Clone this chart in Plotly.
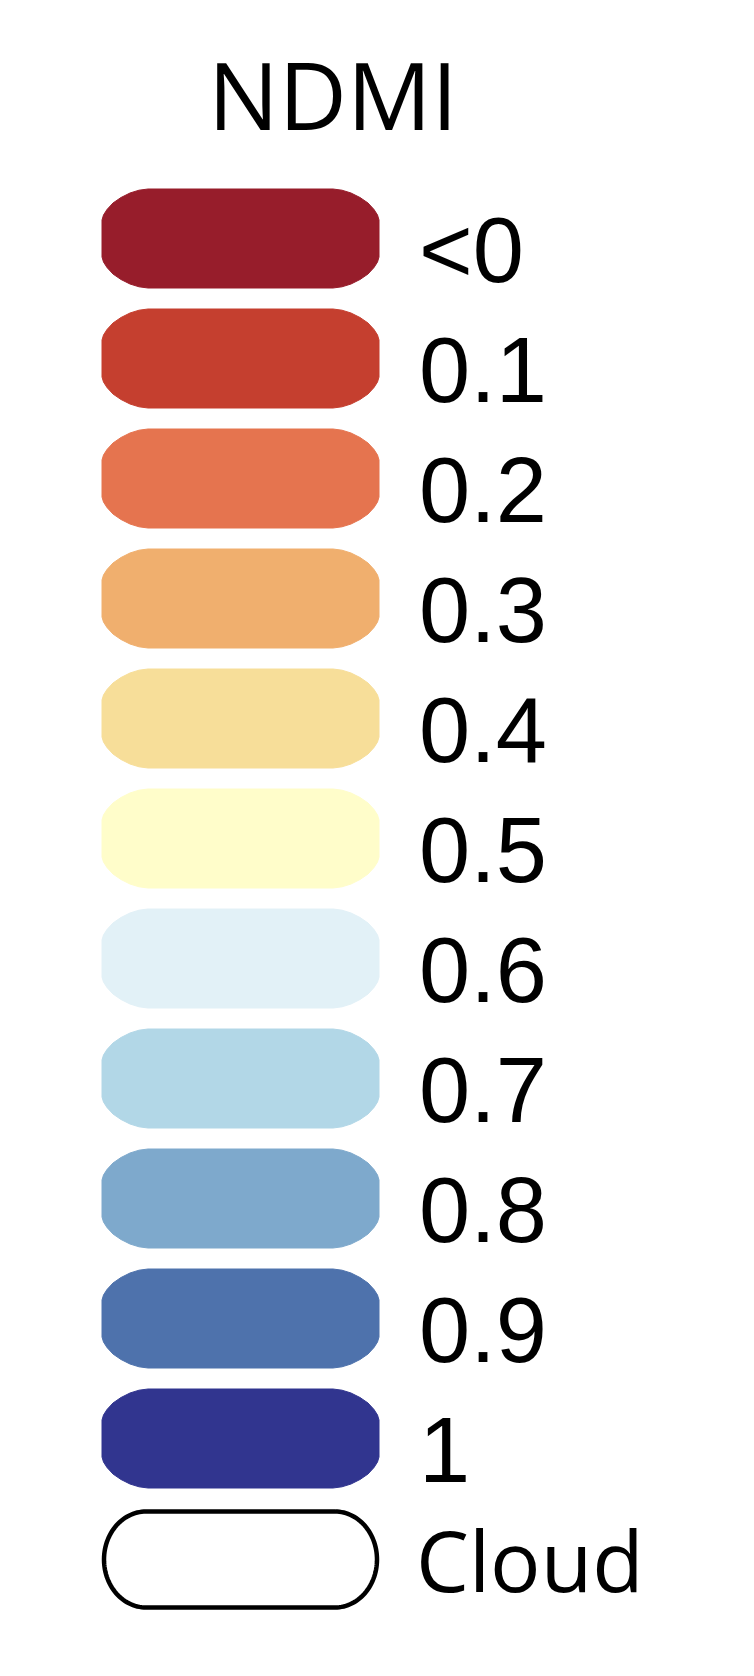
import numpy as np
import plotly.graph_objects as go

title = "NDMI"
labels = ["<0", "0.1", "0.2", "0.3", "0.4", "0.5", "0.6", "0.7", "0.8", "0.9", "1"]
colors = ["#971D2B", "#C53F2F", "#E5744F", "#F0AF6E", "#F7DE99", "#FFFDCA",
          "#E2F1F7", "#B2D7E7", "#7EA9CC", "#4E72AC", "#31358F"]
cloud_label = "Cloud"

W, H = 754, 1676
x0, x1 = 102, 379
top0, pitch, ph = 189, 120, 99

# corner profile of the coloured swatches: (inset from side, offset from top)
corner = [(46, 0), (37, 1.2), (28, 4), (19, 8.5), (11, 14), (5, 20.5), (1.5, 26), (0, 31)]


def swatch(cy):
    y0, y1 = cy - ph / 2, cy + ph / 2
    tl = [(x0 + dx, y0 + dy) for dx, dy in reversed(corner)]   # side -> top
    tr = [(x1 - dx, y0 + dy) for dx, dy in corner]             # top -> side
    br = [(x1 - dx, y1 - dy) for dx, dy in reversed(corner)]   # side -> bottom
    bl = [(x0 + dx, y1 - dy) for dx, dy in corner]             # bottom -> side
    path = tl + tr + br + bl + [tl[0]]
    return [p[0] for p in path], [p[1] for p in path]


def stadium(cy, rx, ry, inset):
    t = np.linspace(-np.pi / 2, np.pi / 2, 61)
    xr = (x1 - inset - rx) + rx * np.cos(t)
    yr = cy + ry * np.sin(t)
    t2 = np.linspace(np.pi / 2, 3 * np.pi / 2, 61)
    xl = (x0 + inset + rx) + rx * np.cos(t2)
    yl = cy + ry * np.sin(t2)
    xs = np.concatenate([xr, xl, [xr[0]]])
    ys = np.concatenate([yr, yl, [yr[0]]])
    return xs, ys


fig = go.Figure()
annotations = []
n = len(labels)
for i, (lab, col) in enumerate(zip(labels, colors)):
    cy = top0 + ph / 2 + pitch * i
    xs, ys = swatch(cy)
    fig.add_trace(go.Scatter(x=xs, y=ys, mode="lines", fill="toself",
                             fillcolor=col, line=dict(color=col, width=1, simplify=False),
                             hoverinfo="skip", showlegend=False))
    annotations.append(dict(x=417, y=cy + 11, xref="x", yref="y", text=lab,
                            showarrow=False, xanchor="left", yanchor="middle",
                            font=dict(family="Liberation Sans, Arial", size=92, color="#000000")))

cy = top0 + ph / 2 + pitch * n + 1
xs, ys = stadium(cy, 42, 48, 2)
fig.add_trace(go.Scatter(x=xs, y=ys, mode="lines", fill="toself",
                         fillcolor="#ffffff", line=dict(color="#000000", width=4.5, simplify=False),
                         hoverinfo="skip", showlegend=False))
annotations.append(dict(x=414, y=cy, xref="x", yref="y", text=cloud_label,
                        showarrow=False, xanchor="left", yanchor="middle",
                        font=dict(family="Open Sans", size=84, color="#000000")))

annotations.append(dict(x=333, y=94, xref="x", yref="y", text=title,
                        showarrow=False, xanchor="center", yanchor="middle",
                        font=dict(family="Open Sans", size=94, color="#000000")))

fig.update_layout(
    width=W, height=H,
    margin=dict(l=0, r=0, t=0, b=0),
    paper_bgcolor="#ffffff", plot_bgcolor="#ffffff",
    xaxis=dict(range=[0, W], visible=False, fixedrange=True),
    yaxis=dict(range=[H, 0], visible=False, fixedrange=True),
    annotations=annotations,
    showlegend=False,
)

fig.write_html("out.html", config={"displayModeBar": False})
